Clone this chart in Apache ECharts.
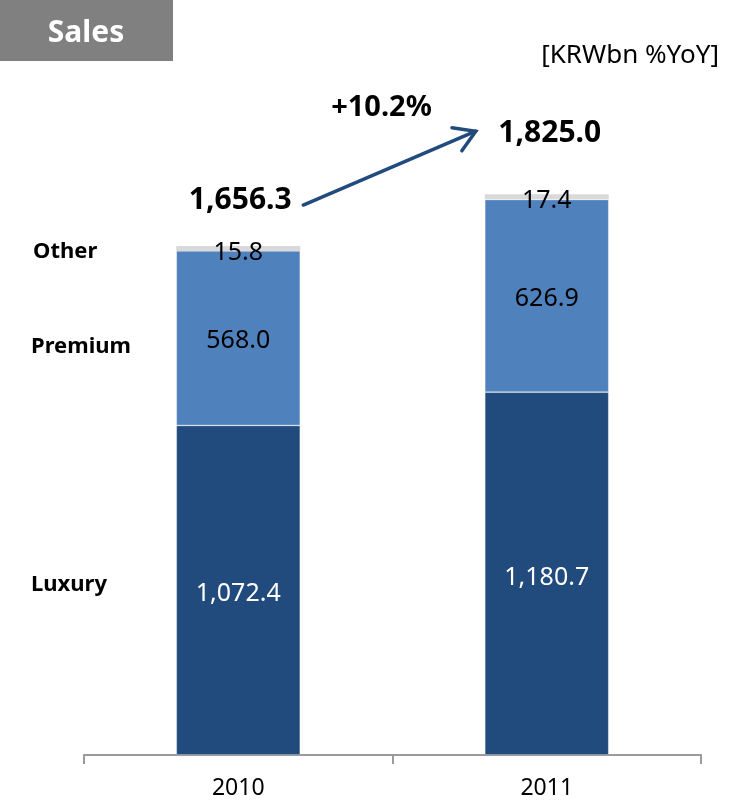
<!DOCTYPE html>
<html>
<head>
<meta charset="utf-8">
<script src="https://cdn.jsdelivr.net/npm/echarts@6/dist/echarts.min.js"></script>
<style>html,body{margin:0;padding:0;background:#fff}#c{width:731px;height:808px}</style>
</head>
<body>
<div id="c"></div>
<script>
const categories = ['2010', '2011'];
const luxury = [1072.4, 1180.7];
const premium = [568.0, 626.9];
const other = [15.8, 17.4];
const totals = [1656.3, 1825.0];
const growthLabel = '+10.2%';
const seriesNames = ['Luxury', 'Premium', 'Other'];
const unitLabel = '[KRWbn %YoY]';
const titleText = 'Sales';

const FONT = '"Noto Sans", "Open Sans", sans-serif';
const fmt = v => v.toLocaleString('en-US', {minimumFractionDigits: 1, maximumFractionDigits: 1});

const chart = echarts.init(document.getElementById('c'), null, {renderer: 'canvas'});
const totalOffsets = [[2, -46], [3, -61]];

const option = {
  animation: false,
  grid: {left: 84, right: 30, top: 17.5, bottom: 53, containLabel: false},
  xAxis: {
    type: 'category',
    data: categories,
    axisLine: {lineStyle: {color: '#9a9a9a', width: 2}},
    axisTick: {show: true, length: 9, lineStyle: {color: '#9a9a9a', width: 2}},
    axisLabel: {color: '#000', fontSize: 23, fontFamily: FONT, margin: 22}
  },
  yAxis: {
    type: 'value', min: 0, max: 2400, show: false, splitLine: {show: false}
  },
  series: [
    {
      name: seriesNames[0], type: 'bar', stack: 's', barWidth: 124, data: luxury,
      itemStyle: {color: '#214A7D', borderColor: 'rgba(255,255,255,0.35)', borderWidth: 0.8},
      label: {show: true, position: 'inside', color: '#fff', fontSize: 25, fontFamily: FONT,
        offset: [0, 4], formatter: p => fmt(p.value)}
    },
    {
      name: seriesNames[1], type: 'bar', stack: 's', barWidth: 124, data: premium,
      itemStyle: {color: '#4F81BD', borderColor: 'rgba(255,255,255,0.35)', borderWidth: 0.8},
      label: {show: true, position: 'inside', color: '#000', fontSize: 25, fontFamily: FONT,
        offset: [0, 3], formatter: p => fmt(p.value)}
    },
    {
      name: seriesNames[2], type: 'bar', stack: 's', barWidth: 124, data: other,
      itemStyle: {color: '#D9D9D9'},
      label: {show: true, position: 'inside', color: '#000', fontSize: 25, fontFamily: FONT,
        offset: [0, 4], formatter: p => fmt(p.value)}
    },
    {
      name: 'Total', type: 'scatter', symbolSize: 0, silent: true,
      itemStyle: {opacity: 1},
      data: totals.map((v, i) => ({
        value: [categories[i], v],
        label: {offset: totalOffsets[i]}
      })),
      label: {show: true, position: 'inside', color: '#000', fontSize: 30, fontWeight: 'bold',
        fontFamily: FONT, opacity: 1, textBorderWidth: 0, formatter: p => fmt(p.value[1])}
    }
  ],
  graphic: [
    {type: 'rect', left: 0, top: 0, shape: {width: 173, height: 61}, style: {fill: '#808080'}},
    {type: 'text', x: 86, y: 33, style: {text: titleText, fill: '#fff', font: 'bold 30px ' + FONT,
      textAlign: 'center', textVerticalAlign: 'middle'}},
    {type: 'text', x: 719, y: 56, style: {text: unitLabel, fill: '#000', font: '26px ' + FONT,
      textAlign: 'right', textVerticalAlign: 'middle'}},
    {type: 'text', x: 33, y: 252, style: {text: seriesNames[2], fill: '#000', font: 'bold 22px ' + FONT,
      textAlign: 'left', textVerticalAlign: 'middle'}},
    {type: 'text', x: 31, y: 347, style: {text: seriesNames[1], fill: '#000', font: 'bold 22px ' + FONT,
      textAlign: 'left', textVerticalAlign: 'middle'}},
    {type: 'text', x: 31, y: 585, style: {text: seriesNames[0], fill: '#000', font: 'bold 22px ' + FONT,
      textAlign: 'left', textVerticalAlign: 'middle'}}
  ]
};
chart.setOption(option);

// arrow & growth label placed relative to total points
const p0 = chart.convertToPixel({gridIndex: 0}, [categories[0], totals[0]]);
const p1 = chart.convertToPixel({gridIndex: 0}, [categories[1], totals[1]]);
const start = [p0[0] + 65, p0[1] - 41];
const tip = [p1[0] - 71, p1[1] - 63];
const ang = Math.atan2(tip[1] - start[1], tip[0] - start[0]);
const hl = 24, ha = 0.55;
const w1 = [tip[0] - hl * Math.cos(ang - ha), tip[1] - hl * Math.sin(ang - ha)];
const w2 = [tip[0] - hl * Math.cos(ang + ha), tip[1] - hl * Math.sin(ang + ha)];
const arrowStyle = {stroke: '#214A7D', lineWidth: 3.5, fill: null, lineCap: 'round', lineJoin: 'miter'};
chart.setOption({
  graphic: option.graphic.concat([
    {type: 'line', shape: {x1: start[0], y1: start[1], x2: tip[0], y2: tip[1]}, style: arrowStyle},
    {type: 'polyline', shape: {points: [w1, tip, w2]}, style: arrowStyle},
    {type: 'text', x: (start[0] + tip[0]) / 2 - 8, y: 108, style: {text: growthLabel, fill: '#000',
      font: 'bold 29px ' + FONT, textAlign: 'center', textVerticalAlign: 'middle'}}
  ])
});
</script>
</body>
</html>
